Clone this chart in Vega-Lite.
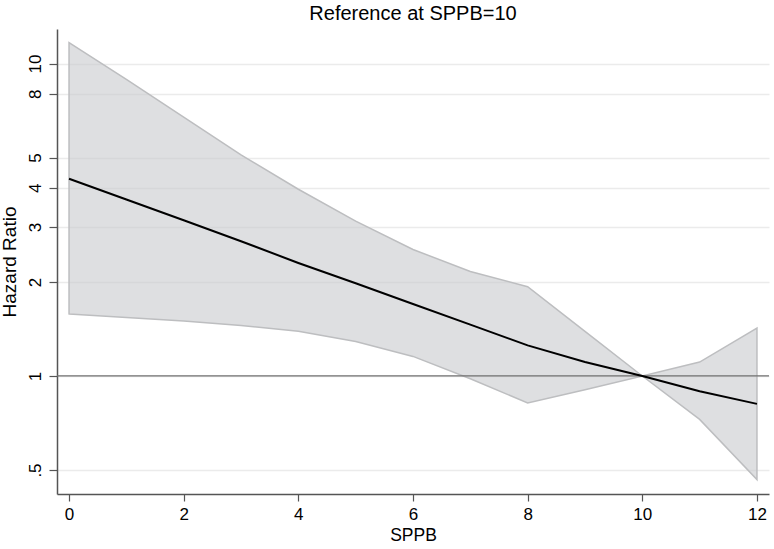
{
  "$schema": "https://vega.github.io/schema/vega-lite/v6.json",
  "autosize": "none",
  "padding": {"left": 57, "top": 29, "right": 5, "bottom": 55},
  "width": 712,
  "height": 465,
  "background": "white",
  "title": {"text": "Reference at SPPB=10", "fontSize": 20, "fontWeight": "normal", "font": "Liberation Sans", "color": "#000000", "offset": 5},
  "data": {
    "values": [
      {"sppb": 0, "hr": 4.28, "lo": 1.58, "hi": 11.67},
      {"sppb": 1, "hr": 3.67, "lo": 1.54, "hi": 8.9},
      {"sppb": 2, "hr": 3.15, "lo": 1.5, "hi": 6.74},
      {"sppb": 3, "hr": 2.7, "lo": 1.45, "hi": 5.1},
      {"sppb": 4, "hr": 2.3, "lo": 1.39, "hi": 3.96},
      {"sppb": 5, "hr": 1.98, "lo": 1.29, "hi": 3.13},
      {"sppb": 6, "hr": 1.7, "lo": 1.155, "hi": 2.54},
      {"sppb": 7, "hr": 1.46, "lo": 0.98, "hi": 2.16},
      {"sppb": 8, "hr": 1.253, "lo": 0.82, "hi": 1.93},
      {"sppb": 9, "hr": 1.108, "lo": 0.904, "hi": 1.39},
      {"sppb": 10, "hr": 1.0, "lo": 1.0, "hi": 1.0},
      {"sppb": 11, "hr": 0.893, "lo": 0.726, "hi": 1.108},
      {"sppb": 12, "hr": 0.814, "lo": 0.466, "hi": 1.424}
    ]
  },
  "layer": [
    {
      "mark": {"type": "area", "fill": "#c8cacd", "fillOpacity": 0.6, "stroke": "#bdbec0", "strokeWidth": 1.5},
      "encoding": {
        "x": {"field": "sppb", "type": "quantitative"},
        "y": {"field": "lo", "type": "quantitative"},
        "y2": {"field": "hi"}
      }
    },
    {
      "data": {"values": [{"ref": 1}]},
      "mark": {"type": "rule", "color": "#707070", "strokeWidth": 1.3},
      "encoding": {"y": {"field": "ref", "type": "quantitative"}}
    },
    {
      "mark": {"type": "line", "color": "#000000", "strokeWidth": 2},
      "encoding": {
        "x": {
          "field": "sppb", "type": "quantitative", "title": "SPPB",
          "scale": {"domain": [-0.21, 12.21], "nice": false, "zero": false},
          "axis": {"values": [0, 2, 4, 6, 8, 10, 12], "format": "d", "grid": false, "tickSize": 7, "labelPadding": 5, "titlePadding": 4, "titleFontSize": 17.5}
        },
        "y": {
          "field": "hr", "type": "quantitative", "title": "Hazard Ratio",
          "scale": {"type": "log", "domain": [0.419, 12.9], "nice": false},
          "axis": {
            "values": [0.5, 1, 2, 3, 4, 5, 8, 10],
            "labelExpr": "datum.value == 0.5 ? '.5' : datum.label",
            "format": "~g",
            "labelAngle": -90, "labelAlign": "center", "labelBaseline": "bottom",
            "tickSize": 8, "labelPadding": 5, "titlePadding": 7, "titleFontSize": 19,
            "grid": true
          }
        }
      }
    }
  ],
  "config": {
    "view": {"stroke": null},
    "axis": {
      "labelFont": "Liberation Sans", "titleFont": "Liberation Sans",
      "labelFontSize": 17, "titleFontSize": 17, "titleFontWeight": "normal",
      "labelColor": "#000000", "titleColor": "#000000",
      "domainColor": "#555555", "domainWidth": 1.5,
      "tickColor": "#555555", "tickWidth": 1.2,
      "gridColor": "#ebebeb", "gridWidth": 1.5
    }
  }
}
